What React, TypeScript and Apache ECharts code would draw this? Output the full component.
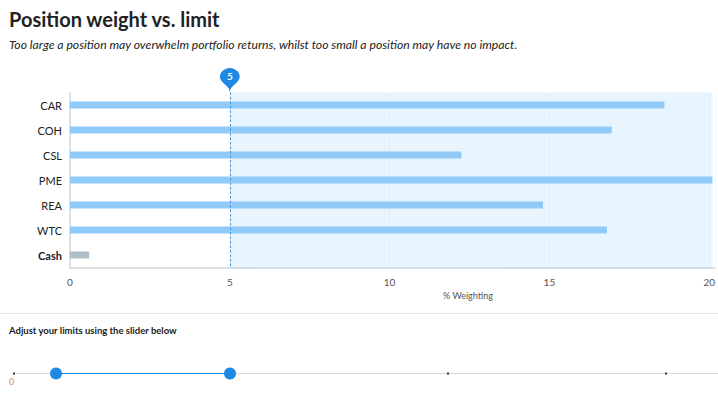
import React, { useEffect, useRef } from "react";
import * as echarts from "echarts";

const categories = ["CAR", "COH", "CSL", "PME", "REA", "WTC", "Cash"];
const weights = [18.6, 16.95, 12.25, 20.1, 14.8, 16.8, 0.6];
const limitValue = 5;
const xTicks = [0, 5, 10, 15, 20];
const titleText = "Position weight vs. limit";
const subtitleText =
  "Too large a position may overwhelm portfolio returns, whilst too small a position may have no impact.";
const axisName = "% Weighting";
const sliderText = "Adjust your limits using the slider below";

export default function App() {
  const ref = useRef<HTMLDivElement>(null);
  useEffect(() => {
    if (!ref.current) return;
    const chart = echarts.init(ref.current, undefined, { renderer: "svg" });
    const font = "Lato, 'Noto Sans', sans-serif";
    chart.setOption({
      animation: false,
      textStyle: { fontFamily: font },
      grid: { left: 70, right: 0, top: 92.5, bottom: 129.5 },
      xAxis: {
        type: "value",
        min: xTicks[0],
        max: 20.2,
        interval: 5,
        axisLine: { show: true, lineStyle: { color: "#cfd8dc", width: 1.5 } },
        axisTick: { show: false },
        splitLine: { show: true, lineStyle: { color: "rgba(0,0,0,0.035)" } },
        axisLabel: {
          color: "#555",
          fontSize: 10,
          margin: 9,
          showMaxLabel: false,
          fontFamily: font,
        },
      },
      yAxis: {
        type: "category",
        data: categories,
        inverse: true,
        axisLine: { show: true, lineStyle: { color: "#cfd8dc", width: 1.5 } },
        axisTick: { show: false },
        axisLabel: {
          color: "#222",
          fontSize: 11,
          margin: 8,
          fontFamily: font,
          formatter: (v: string) => (v === "Cash" ? `{b|${v}}` : v),
          rich: { b: { fontWeight: "bold", fontSize: 11, color: "#222", fontFamily: font } },
        },
      },
      series: [
        {
          type: "bar",
          barWidth: 7,
          data: weights.map((v, i) => ({
            value: v,
            itemStyle: { color: categories[i] === "Cash" ? "#b0bec5" : "#90caf9" },
          })),
          markArea: {
            silent: true,
            itemStyle: { color: "rgba(33,150,243,0.1)" },
            data: [[{ xAxis: limitValue }, { xAxis: "max" }]],
          },
          markLine: {
            silent: true,
            symbol: ["none", "none"],
            label: { show: false },
            lineStyle: { color: "#4a90d9", type: [2.5, 2], width: 1 },
            data: [{ xAxis: limitValue }],
          },
          markPoint: {
            silent: true,
            symbol: "pin",
            symbolSize: [33, 28],
            symbolOffset: [0, -12.5],
            itemStyle: { color: "#1e88e5" },
            label: {
              show: true,
              color: "#fff",
              fontSize: 10,
              fontWeight: "bold",
              fontFamily: font,
              offset: [0, -2],
              formatter: () => String(limitValue),
            },
            data: [{ coord: [limitValue, categories[0]] }],
          },
        },
      ],
      graphic: [
        {
          type: "text",
          left: 9,
          top: 9,
          style: { text: titleText, font: `bold 20px ${font}`, fill: "#222" },
        },
        {
          type: "text",
          left: 9,
          top: 38,
          style: { text: subtitleText, font: `italic 12.2px ${font}`, fill: "#222" },
        },
        {
          type: "text",
          left: 443,
          top: 291,
          style: { text: axisName, font: `9px ${font}`, fill: "#555" },
        },
        {
          type: "line",
          shape: { x1: 0, y1: 313.5, x2: 718, y2: 313.5 },
          style: { stroke: "#e6e6e6", lineWidth: 1 },
        },
        {
          type: "text",
          left: 9,
          top: 325,
          style: { text: sliderText, font: `bold 9.5px ${font}`, fill: "#222" },
        },
        {
          type: "line",
          shape: { x1: 14, y1: 373.5, x2: 718, y2: 373.5 },
          style: { stroke: "#d5dde2", lineWidth: 1 },
        },
        {
          type: "line",
          shape: { x1: 56, y1: 373.5, x2: 230, y2: 373.5 },
          style: { stroke: "#1e88e5", lineWidth: 1.2 },
        },
        { type: "rect", shape: { x: 13, y: 372.5, width: 2, height: 2 }, style: { fill: "#333" } },
        { type: "rect", shape: { x: 447, y: 372.5, width: 2, height: 2 }, style: { fill: "#333" } },
        { type: "rect", shape: { x: 665, y: 372.5, width: 2, height: 2 }, style: { fill: "#333" } },
        { type: "circle", shape: { cx: 56, cy: 373.5, r: 6 }, style: { fill: "#1e88e5" } },
        { type: "circle", shape: { cx: 230, cy: 373.5, r: 6 }, style: { fill: "#1e88e5" } },
        {
          type: "text",
          left: 9,
          top: 377,
          style: { text: "0", font: `9px ${font}`, fill: "#d9875a" },
        },
      ],
    });
    return () => chart.dispose();
  }, []);
  return (
    <div
      ref={ref}
      style={{ position: "fixed", left: 0, top: 0, width: 718, height: 397, background: "#fff" }}
    />
  );
}
